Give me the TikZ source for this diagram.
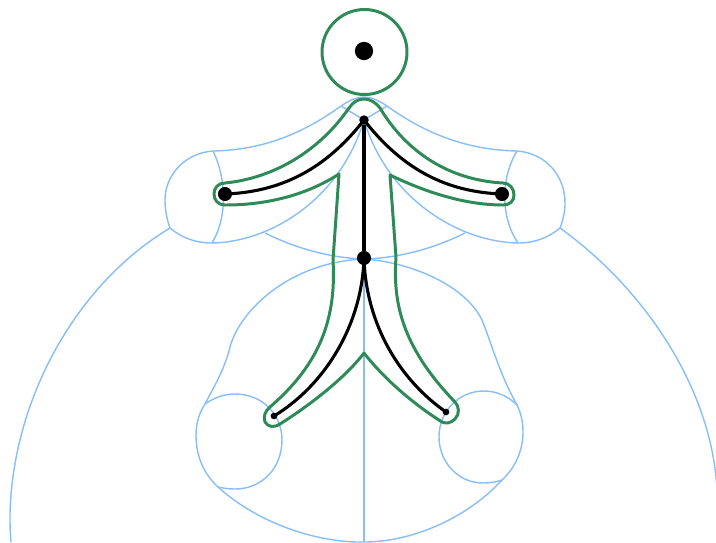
\documentclass[tikz,border=0pt]{standalone}
\usepackage{tikz}
\definecolor{bodygreen}{RGB}{46,139,87}
\definecolor{cellblue}{RGB}{135,190,250}
\tikzset{
  joint/.style={circle,fill=black,inner sep=0pt,minimum size=#1},
  bone/.style={black,line width=1.75pt},
  outline/.style={bodygreen,line width=1.7pt,line join=round},
  cell/.style={cellblue,line width=0.8pt},
}
\begin{document}
\begin{tikzpicture}[x=0.02cm,y=-0.02cm]
\useasboundingbox (0,0) rectangle (716,542);
\draw[cell] (170,228) .. controls (75,285) and (13,400) .. (10,513) .. controls (10,523) and (10,532) .. (11,542);
\draw[cell] (560,228) .. controls (646,290) and (712,390) .. (717,490);
\draw[cell] (218,487) .. controls (260,525) and (320,543) .. (364,542) .. controls (410,542) and (465,520) .. (502,480);
\draw[cell] (205,404) .. controls (215,385) and (225,368) .. (230,347) .. controls (240,310) and (290,262) .. (364,259);
\draw[cell] (364,259) .. controls (410,262) and (465,285) .. (482,320) .. controls (492,345) and (500,375) .. (517,405);
\draw[cell] (205,404) .. controls (215,397) and (225,394) .. (235,394) .. controls (263,394) and (282,415) .. (282,440) .. controls (282,468) and (262,489) .. (235,489) .. controls (228,489) and (223,488) .. (218,487) .. controls (205,475) and (196,458) .. (196,435) .. controls (196,424) and (199,413) .. (205,404);
\draw[cell] (517,405) .. controls (508,396) and (496,391) .. (484,391) .. controls (458,391) and (439,412) .. (439,437) .. controls (439,462) and (458,483) .. (483,483) .. controls (490,483) and (496,482) .. (502,480) .. controls (515,468) and (523,451) .. (523,432) .. controls (523,422) and (521,413) .. (517,405);
\draw[cell] (341,106) .. controls (305,132) and (265,150) .. (213,151);
\draw[cell] (213,151) .. controls (185,153) and (165,175) .. (165,200) .. controls (165,210) and (167,220) .. (170,228) .. controls (182,238) and (196,243) .. (212,243);
\draw[cell] (213,151) .. controls (225,175) and (229,215) .. (212,243);
\draw[cell] (212,243) .. controls (270,242) and (340,200) .. (364,120);
\draw[cell] (265,233) .. controls (295,248) and (330,258) .. (364,259);
\draw[cell] (387,106) .. controls (423,132) and (465,150) .. (517,151);
\draw[cell] (517,151) .. controls (545,153) and (565,175) .. (565,203) .. controls (565,212) and (563,220) .. (560,228) .. controls (548,238) and (534,243) .. (518,243);
\draw[cell] (517,151) .. controls (502,175) and (499,215) .. (518,243);
\draw[cell] (518,243) .. controls (460,242) and (388,200) .. (364,120);
\draw[cell] (465,233) .. controls (435,248) and (400,258) .. (364,259);
\draw[cell] (341,106) .. controls (350,100) and (357,97) .. (364,97) .. controls (371,97) and (378,100) .. (387,106);
\draw[cell] (341,106) -- (364,120) -- (387,106);
\draw[cell] (364,259) -- (364,542);
\draw[outline] (364.5,52) circle (42.5);
\draw[outline] (339,174) .. controls (305,196) and (265,205) .. (225,205)
  .. controls (218,205) and (214,200) .. (214,194) .. controls (214,188) and (218,183) .. (225,183)
  .. controls (275,178) and (320,150) .. (349,108) .. controls (353,102) and (358,99) .. (364,99)
  .. controls (370,99) and (375,102) .. (380,108) .. controls (405,150) and (447,180) .. (503,183)
  .. controls (510,183) and (514,189) .. (514,195) .. controls (514,201) and (510,205) .. (503,205)
  .. controls (465,205) and (425,192) .. (390,175) -- (396,257)
  .. controls (393,300) and (400,345) .. (455,402) .. controls (459,406) and (460,414) .. (455,419)
  .. controls (451,423) and (446,424) .. (442,422) .. controls (415,405) and (385,380) .. (364,353)
  .. controls (345,378) and (310,405) .. (280,424) .. controls (274,428) and (268,427) .. (265,422)
  .. controls (263,417) and (265,411) .. (270,407) .. controls (315,368) and (337,325) .. (333,260) -- cycle;
\node[joint=10.4pt] (head) at (364,51) {};
\node[joint=5.4pt] (neck) at (364,120) {};
\node[joint=8pt] (pelvis) at (364,258) {};
\node[joint=8pt] (handL) at (225,194) {};
\node[joint=8pt] (handR) at (502,194) {};
\node[joint=3.8pt] (footL) at (274,416) {};
\node[joint=3.8pt] (footR) at (446,412) {};
\draw[bone] (neck) -- (pelvis);
\draw[bone] (neck.center) .. controls (325,170) and (280,192) .. (handL.center);
\draw[bone] (neck.center) .. controls (403,170) and (447,192) .. (handR.center);
\draw[bone] (pelvis.center) .. controls (362,325) and (325,385) .. (footL.center);
\draw[bone] (pelvis.center) .. controls (366,325) and (400,380) .. (footR.center);
\end{tikzpicture}
\end{document}
